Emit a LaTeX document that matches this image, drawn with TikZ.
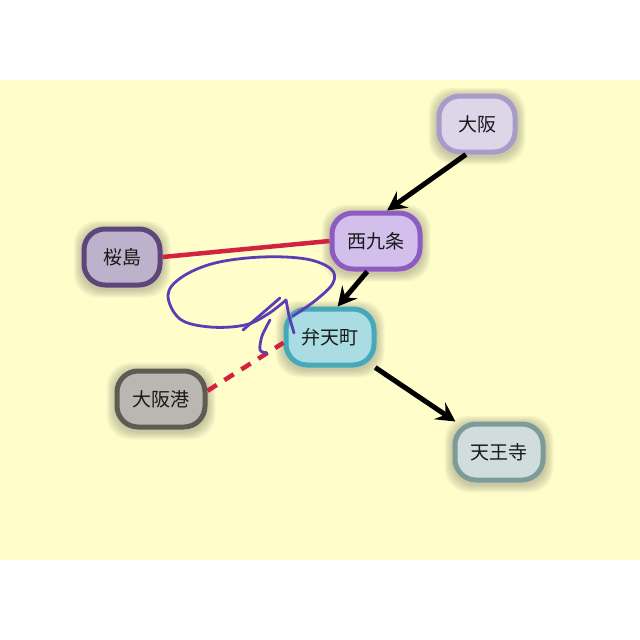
\documentclass[tikz,border=0pt]{standalone}
\usepackage{fontspec}
\newfontfamily\jp{Noto Sans CJK JP}
\usetikzlibrary{arrows.meta,backgrounds,calc}
\definecolor{bgyellow}{HTML}{FFFDC9}
\definecolor{osakaF}{HTML}{DDD6E9}\definecolor{osakaB}{HTML}{A99BC9}
\definecolor{nishiF}{HTML}{D3BFEB}\definecolor{nishiB}{HTML}{8D5BC2}
\definecolor{sakuF}{HTML}{BDB1CB}\definecolor{sakuB}{HTML}{5E467A}
\definecolor{benF}{HTML}{A9DDE3}\definecolor{benB}{HTML}{45A9B9}
\definecolor{portF}{HTML}{BAB6B2}\definecolor{portB}{HTML}{5E5C52}
\definecolor{tenF}{HTML}{D1DDDD}\definecolor{tenB}{HTML}{7D9C99}
\definecolor{redline}{HTML}{D2223F}
\definecolor{scrib}{HTML}{5D3DB5}
\newcommand\nodeglow[1]{%
  \foreach \k in {1,...,8}{%
    \fill[black!70,opacity=0.04,rounded corners=24pt]
      ($(#1.south west)+(-\k,\k+2)$) rectangle ($(#1.north east)+(\k,-\k+2)$);}}
\begin{document}
\begin{tikzpicture}[x=1pt,y=-1pt,
  stn/.style={draw, line width=5pt, rounded corners=21pt, minimum height=56pt,
    inner sep=0pt, font=\jp\fontsize{19}{22}\selectfont, text=black!90},
  two/.style={stn, minimum width=76pt},
  three/.style={stn, minimum width=88pt},
  arr/.style={line width=5pt, draw=black, -{Stealth[length=19pt,width=20pt,inset=7pt]}},
  redl/.style={line width=4.5pt, draw=redline},
  scribble/.style={line width=2.8pt, draw=scrib, line cap=round, line join=round}]
\useasboundingbox (0,0) rectangle (640,640);

\node[two,   fill=osakaF, draw=osakaB] (osaka)  at (477,124) {大阪};
\node[three, fill=nishiF, draw=nishiB] (nishi)  at (376,241) {西九条};
\node[two,   fill=sakuF,  draw=sakuB]  (sakura) at (122,257) {桜島};
\node[three, fill=benF,   draw=benB]   (benten) at (330,337) {弁天町};
\node[three, fill=portF,  draw=portB]  (port)   at (161,399) {大阪港};
\node[three, fill=tenF,   draw=tenB]   (tennoji) at (499,452) {天王寺};

\begin{scope}[on background layer]
  \fill[bgyellow] (0,80) rectangle (640,560);
  \nodeglow{osaka}\nodeglow{nishi}\nodeglow{sakura}
  \nodeglow{benten}\nodeglow{port}\nodeglow{tennoji}
\end{scope}

\draw[arr] (osaka.250) -- (nishi.70);
\draw[arr] (nishi.254) -- (benten.76);
\draw[arr] (benten.326) -- (tennoji.145);
\draw[redl] (sakura.east) -- (nishi.west);
\draw[redl, dash pattern=on 11pt off 9pt] (port.10) -- (benten.187);

\draw[scribble] plot[smooth, tension=0.6] coordinates {(293,316) (316,300) (333,283) (331,269) (306,259) (262,257) (215,263) (182,277) (168,295) (180,319) (210,327) (245,325) (268,314) (286,300)};
\draw[scribble] (286,300) -- (289,316) -- (294,333);
\draw[scribble] (280,298) -- (243,330);
\draw[scribble] plot[smooth] coordinates {(270,320) (262,336) (260,350) (267,353)};
\end{tikzpicture}
\end{document}
